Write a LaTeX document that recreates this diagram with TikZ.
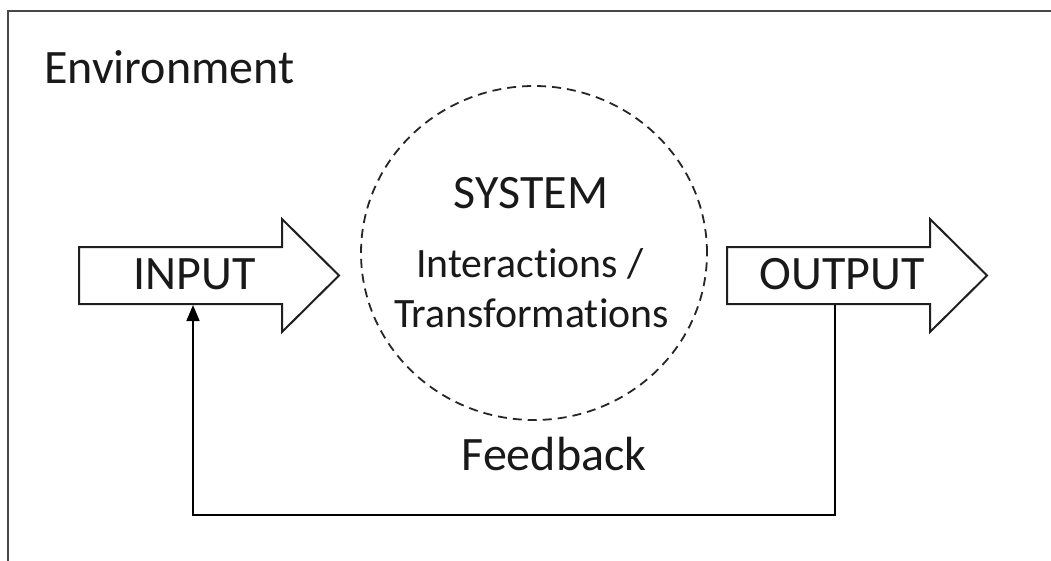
\documentclass[tikz,border=0pt]{standalone}
\usepackage{fontspec}
\setmainfont{Carlito}[RawFeature={-liga;-clig;-calt;-dlig}]
\usetikzlibrary{arrows.meta,shapes.geometric}
\begin{document}
\begin{tikzpicture}[x=1pt,y=-1pt,
  blockarrow/.style={draw=black!88, line width=2pt, fill=white, line join=miter},
  lbl/.style={inner sep=0pt, anchor=base, text=black!90, font=\fontsize{48}{57}\selectfont},
  sublbl/.style={inner sep=0pt, anchor=base, text=black!90, font=\fontsize{41.8}{50}\selectfont},
  envframe/.style={draw=black!72, line width=2.4pt},
  sysring/.style={draw=black!85, line width=1.8pt, dash pattern=on 9pt off 6pt, ellipse, minimum width=346pt, minimum height=334pt, inner sep=0pt},
  fbline/.style={draw=black, line width=1.6pt}]
\useasboundingbox (0,0) rectangle (1051,560);
% environment frame (top and left sides only visible)
\draw[envframe] (8,562) -- (8,11) -- (1053,11);
\node[lbl, anchor=base west] (env) at (44,83) {Environment};
% system
\node[sysring] (sys) at (534,253) {};
\node[lbl] (systxt) at (531,208) {SYSTEM};
\node[sublbl] (inter) at (530,277) {Interact\kern0pt ions /};
\node[sublbl] (trans) at (531.5,327) {Transformat\kern0pt ions};
% input block arrow
\draw[blockarrow] (79,247) -- (282,247) -- (282,219) -- (339,275.5) -- (282,332) -- (282,304) -- (79,304) -- cycle;
\node[lbl] (inp) at (194.5,289) {INPUT};
% output block arrow
\draw[blockarrow] (727,247) -- (930,247) -- (930,219) -- (987,275.5) -- (930,332) -- (930,304) -- (727,304) -- cycle;
\node[lbl] (outp) at (842,289) {OUTPUT};
% feedback
\coordinate (outfoot) at (835,305);
\coordinate (infoot) at (193,305);
\draw[fbline, -{Triangle[length=16pt,width=13pt]}] (outfoot) -- (835,515) -| (infoot);
\node[lbl] (fbtxt) at (554,470) {Feedback};
\end{tikzpicture}
\end{document}
